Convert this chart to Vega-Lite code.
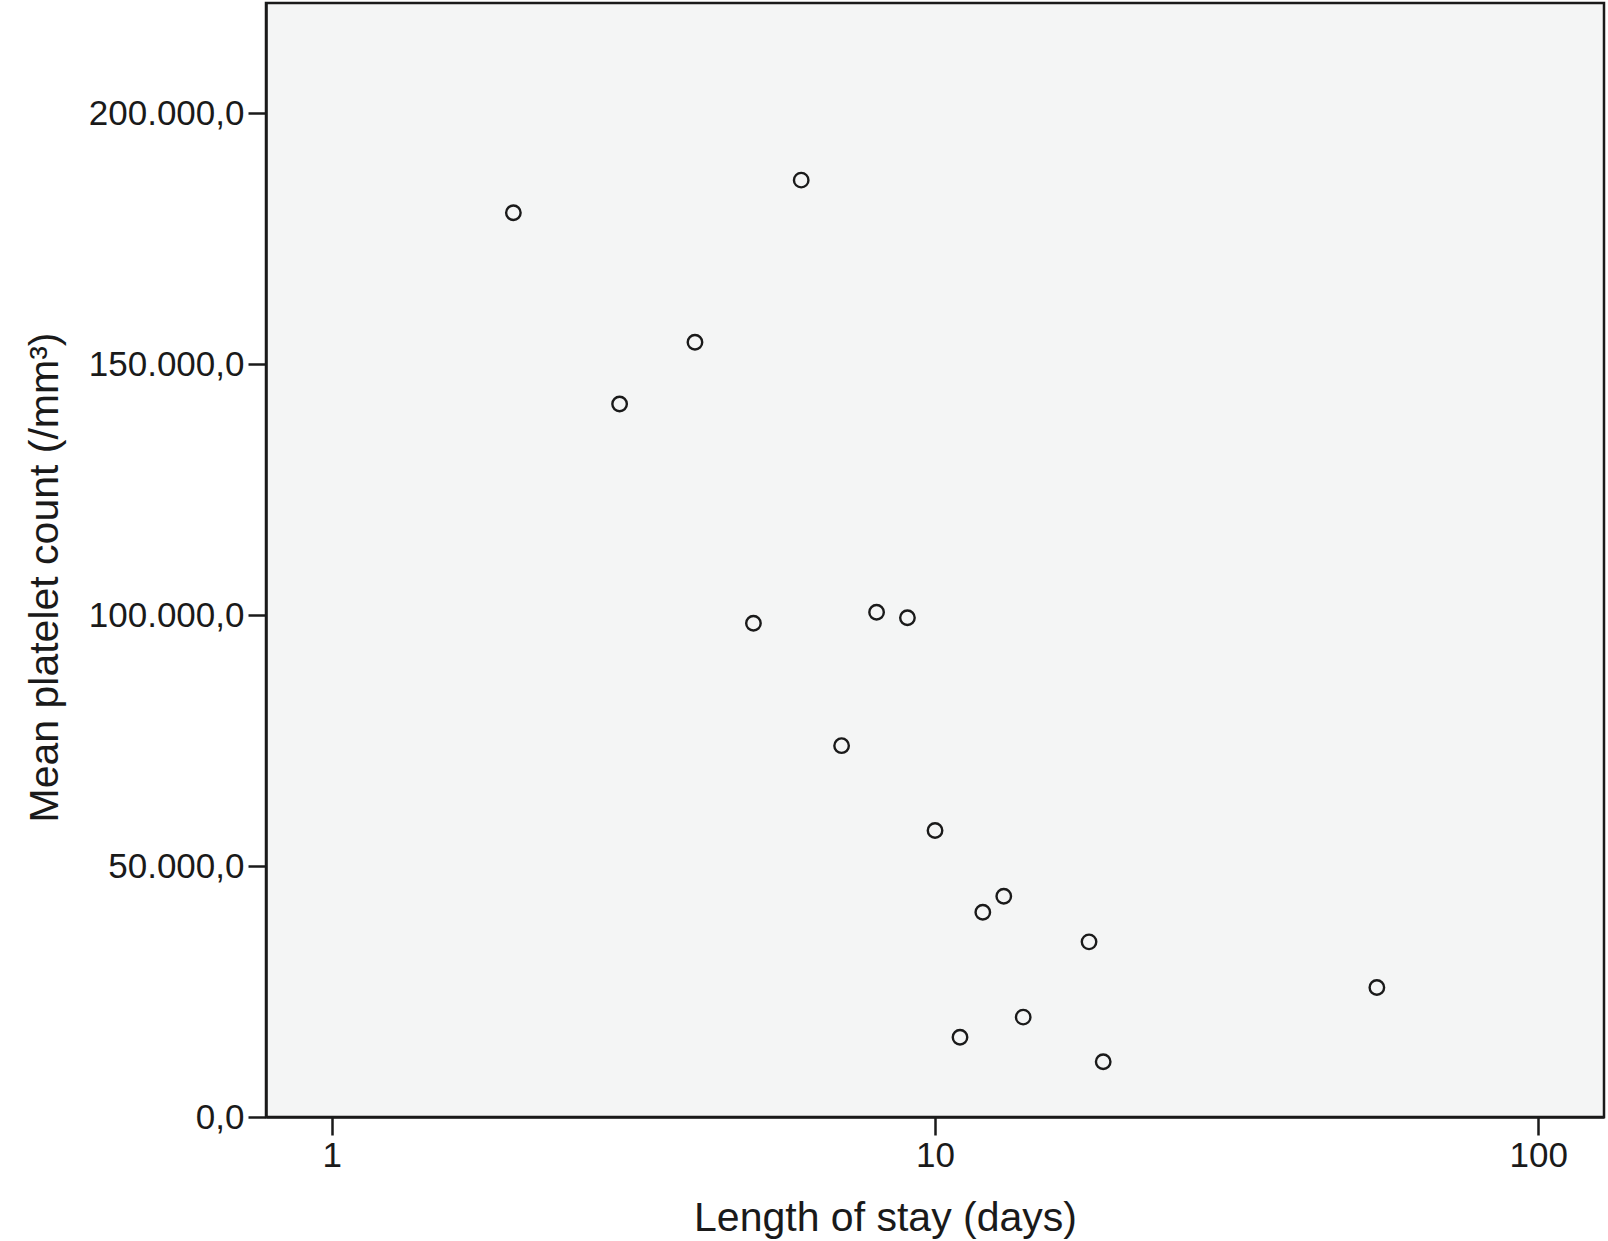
{
  "$schema": "https://vega.github.io/schema/vega-lite/v6.json",
  "width": 1338,
  "height": 1114,
  "autosize": "none",
  "padding": {"left": 266, "top": 3, "right": 4, "bottom": 124},
  "background": "white",
  "config": {
    "locale": {"number": {"decimal": ",", "thousands": ".", "grouping": [3], "currency": ["", " €"]}},
    "view": {"fill": "#f4f5f5", "stroke": "#1a1a1a", "strokeWidth": 2.5},
    "font": "Liberation Sans"
  },
  "data": {
    "values": [
      {"days": 2, "platelets": 180200},
      {"days": 6, "platelets": 186700},
      {"days": 4, "platelets": 154400},
      {"days": 3, "platelets": 142100},
      {"days": 5, "platelets": 98400},
      {"days": 8, "platelets": 100600},
      {"days": 9, "platelets": 99500},
      {"days": 7, "platelets": 74000},
      {"days": 10, "platelets": 57100},
      {"days": 12, "platelets": 40800},
      {"days": 13, "platelets": 44000},
      {"days": 18, "platelets": 34900},
      {"days": 54, "platelets": 25800},
      {"days": 14, "platelets": 19900},
      {"days": 11, "platelets": 15900},
      {"days": 19, "platelets": 11000}
    ]
  },
  "mark": {"type": "point", "shape": "circle", "filled": false, "stroke": "#1a1a1a", "strokeWidth": 2.4, "size": 210, "opacity": 1},
  "encoding": {
    "x": {
      "field": "days",
      "type": "quantitative",
      "scale": {"type": "log", "domain": [0.778, 128.5], "nice": false, "zero": false},
      "axis": {
        "values": [1, 10, 100],
        "format": "d",
        "title": "Length of stay (days)",
        "grid": false,
        "domain": true,
        "domainColor": "#1a1a1a",
        "domainWidth": 2.5,
        "ticks": true,
        "tickSize": 18,
        "tickWidth": 2.5,
        "tickColor": "#1a1a1a",
        "labelFontSize": 35,
        "labelColor": "#1a1a1a",
        "labelPadding": 3,
        "labelFlush": false,
        "labelOverlap": false,
        "labelBound": false,
        "titleFontSize": 41,
        "titleFontWeight": "normal",
        "titleColor": "#1a1a1a",
        "titleX": 619,
        "titleY": 113,
        "titleAlign": "center",
        "titleBaseline": "alphabetic"
      }
    },
    "y": {
      "field": "platelets",
      "type": "quantitative",
      "scale": {"domain": [0, 222000], "nice": false, "zero": true},
      "axis": {
        "values": [0, 50000, 100000, 150000, 200000],
        "format": ",.1f",
        "title": "Mean platelet count (/mm³)",
        "grid": false,
        "domain": true,
        "domainColor": "#1a1a1a",
        "domainWidth": 2.5,
        "ticks": true,
        "tickSize": 18,
        "tickWidth": 2.5,
        "tickColor": "#1a1a1a",
        "labelFontSize": 35,
        "labelColor": "#1a1a1a",
        "labelPadding": 4,
        "labelOverlap": false,
        "labelBound": false,
        "labelFlush": false,
        "titleFontSize": 41,
        "titleFontWeight": "normal",
        "titleColor": "#1a1a1a",
        "titleAngle": -90,
        "titleX": -209,
        "titleY": 574,
        "titleAlign": "center",
        "titleBaseline": "alphabetic"
      }
    }
  }
}
